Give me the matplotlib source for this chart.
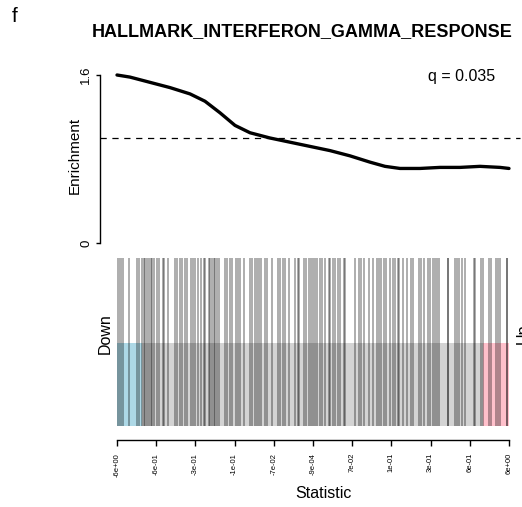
import numpy as np
import matplotlib
matplotlib.use("Agg")
import matplotlib.pyplot as plt

plt.rcParams['font.family'] = ['Liberation Sans', 'DejaVu Sans']

# gene set title and test result
set_name = "HALLMARK_INTERFERON_GAMMA_RESPONSE"
q_text = "q = 0.035"

# ranked list of statistics (ranks 0..N)
n_rank = 392
tick_labels = ["-6e+00", "-6e-01", "-3e-01", "-1e-01", "-7e-02", "-9e-04",
               "7e-02", "1e-01", "3e-01", "6e-01", "6e+00"]

# ranks of gene set members
member_ranks = [0, 2, 4, 6, 12, 20, 22, 25, 27, 28, 30, 32, 34, 35, 37, 40, 42,
                46, 47, 51, 58, 60, 63, 65, 68, 70, 74, 76, 78, 81, 84, 87, 88,
                92, 93, 95, 97, 98, 100, 102, 108, 110, 113, 115, 119, 121, 123,
                127, 133, 135, 138, 140, 142, 144, 148, 150, 155, 161, 163, 166,
                168, 172, 178, 181, 182, 187, 189, 192, 194, 196, 198, 200, 203,
                205, 208, 212, 213, 216, 218, 221, 223, 227, 228, 238, 242, 244,
                247, 252, 256, 260, 262, 264, 267, 269, 273, 276, 278, 281, 282,
                286, 290, 294, 296, 302, 304, 307, 311, 313, 316, 318, 320, 322,
                331, 331, 338, 340, 342, 345, 348, 357, 358, 364, 366, 372, 374,
                379, 381, 383, 390, 390]

# running enrichment curve
curve_rank = [0, 13, 33, 53, 73, 88, 103, 118, 133, 153, 173, 193, 213, 233,
              253, 268, 283, 303, 323, 343, 363, 383, 392]
curve_enrich = [1.60, 1.58, 1.53, 1.48, 1.42, 1.35, 1.24, 1.12, 1.05, 1.00,
                0.96, 0.92, 0.88, 0.83, 0.77, 0.73, 0.71, 0.71, 0.72, 0.72,
                0.73, 0.72, 0.71]

# quantile boundaries for the coloured blocks
down_q = 25
up_q = 366

W, H = 522, 507
fig = plt.figure(figsize=(W / 100, H / 100), dpi=100)

# ---- enrichment panel
ax1 = fig.add_axes([117 / W, 1 - 243 / H, 392 / W, 168 / H])
ax1.plot(curve_rank, curve_enrich, color='black', lw=2.4, clip_on=False,
         solid_capstyle='round', solid_joinstyle='round')
ax1.axhline(1.0, xmin=-17 / 392, xmax=403 / 392, color='black', lw=0.9,
            ls=(0, (5, 4.5)), clip_on=False)
ax1.set_xlim(0, n_rank)
ax1.set_ylim(0, 1.6)
for s in ['top', 'right', 'bottom']:
    ax1.spines[s].set_visible(False)
ax1.spines['left'].set_position(('outward', 12))
ax1.spines['left'].set_bounds(0, 1.6)
ax1.spines['left'].set_linewidth(1.0)
ax1.set_xticks([])
ax1.set_yticks([0, 1.6])
ax1.set_yticklabels(['0', '1.6'], rotation=90, va='center', fontsize=9.5)
ax1.tick_params(axis='y', length=3, width=1.0, pad=3)
ax1.patch.set_visible(False)
fig.text(75 / W, 1 - 155 / H, "Enrichment", rotation=90, ha='center',
         va='center', fontsize=11)
ax1.text(0.88, 0.99, q_text, transform=ax1.transAxes, ha='center',
         va='center', fontsize=11.5)

# ---- barcode panel
ax2 = fig.add_axes([117 / W, 1 - 426 / H, 392 / W, 168 / H])
ax2.set_xlim(0, n_rank)
ax2.set_ylim(0, 1)
box_top = 0.494
ax2.fill_between([0, n_rank], 0, box_top, color='#d3d3d3', lw=0)
ax2.fill_between([0, down_q], 0, box_top, color='#add8e6', lw=0)
ax2.fill_between([up_q, n_rank], 0, box_top, color='#ffc0cb', lw=0)
bars = ax2.vlines(member_ranks, 0, 1, color='black', lw=0.6, alpha=0.75)
bars.set_snap(False)
for s in ['top', 'right', 'left']:
    ax2.spines[s].set_visible(False)
ax2.spines['bottom'].set_position(('outward', 10))
ax2.spines['bottom'].set_bounds(0, n_rank)
ax2.spines['bottom'].set_linewidth(1.0)
ax2.set_yticks([])
ax2.set_xticks(np.linspace(0, n_rank, len(tick_labels)))
ax2.set_xticklabels(tick_labels, rotation=90, fontsize=5.5)
ax2.tick_params(axis='x', length=4.5, width=1.0, pad=5)
fig.text(323 / W, 1 - 493 / H, "Statistic", ha='center', va='center',
         fontsize=11.5)
fig.text(105 / W, 1 - 334 / H, "Down", rotation=90, ha='center',
         va='center', fontsize=11.5)
fig.text(523 / W, 1 - 334 / H, "Up", rotation=90, ha='center',
         va='center', fontsize=11.5)

# ---- titles
fig.text(302 / W, 1 - 32 / H, set_name, ha='center', va='center',
         fontsize=13, fontweight='bold')
fig.text(15 / W, 1 - 17 / H, "f", ha='center', va='center', fontsize=15)

fig.savefig("out.png", dpi=100)
